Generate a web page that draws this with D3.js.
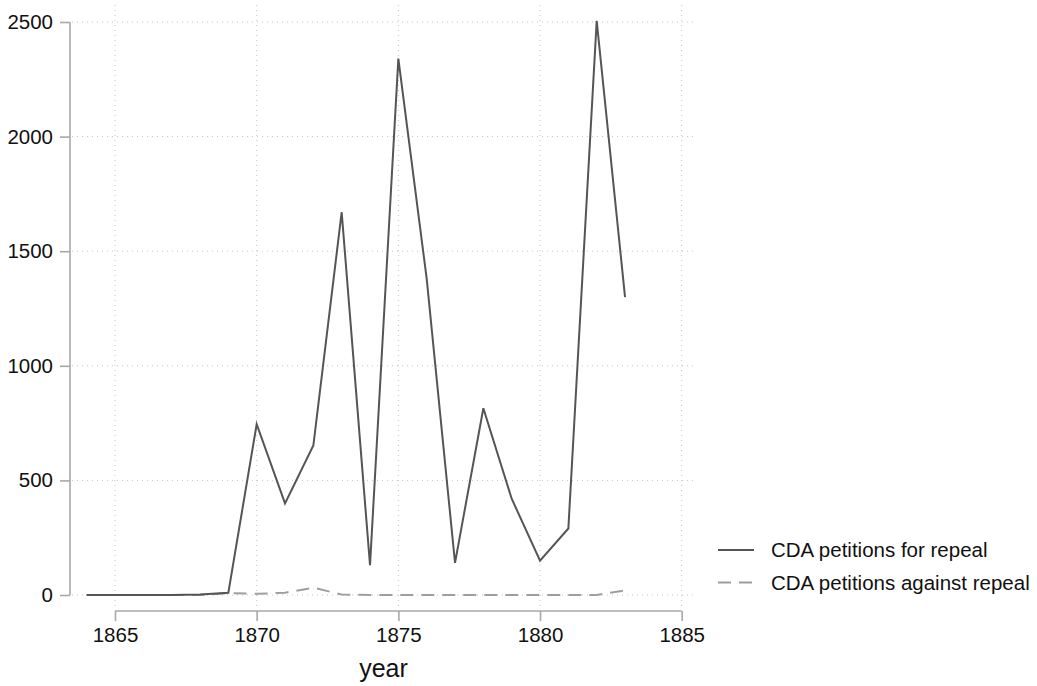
<!DOCTYPE html>
<html>
<head>
<meta charset="utf-8">
<script src="https://cdn.jsdelivr.net/npm/d3@7"></script>
<style>
  html, body { margin: 0; padding: 0; background: #fff; }
  svg { display: block; font-family: "Liberation Sans", Arial, sans-serif; }
</style>
</head>
<body>
<svg id="chart" width="1037" height="686"></svg>
<script>
// Petitions on the Contagious Diseases Acts, by year
const years = [1864, 1865, 1866, 1867, 1868, 1869, 1870, 1871, 1872, 1873,
               1874, 1875, 1876, 1877, 1878, 1879, 1880, 1881, 1882, 1883];
const forRepeal = [0, 0, 0, 0, 2, 10, 745, 400, 652, 1670,
                   130, 2340, 1380, 140, 815, 420, 150, 290, 2505, 1300];
const againstRepeal = [0, 0, 0, 0, 0, 8, 5, 10, 32, 2,
                       0, 0, 0, 0, 0, 0, 0, 0, 0, 20];
const xTicks = [1865, 1870, 1875, 1880, 1885];
const yTicks = [0, 500, 1000, 1500, 2000, 2500];
const seriesNames = ["CDA petitions for repeal", "CDA petitions against repeal"];

const svg = d3.select("#chart");

const x = d3.scaleLinear().domain([1865, 1885]).range([115, 681.7]);
const y = d3.scaleLinear().domain([0, 2500]).range([595, 22]);

const gridColor = "#c4c4c4";
const axisColor = "#a8a8a8";
const fontSize = 20.5;

// dotted grid
const grid = svg.append("g");
grid.selectAll("line.h").data(yTicks).join("line")
  .attr("x1", 72).attr("x2", 695)
  .attr("y1", d => y(d)).attr("y2", d => y(d))
  .attr("stroke", gridColor).attr("stroke-width", 1)
  .attr("stroke-dasharray", "1,4");
grid.selectAll("line.v").data(xTicks).join("line")
  .attr("y1", 5).attr("y2", 610)
  .attr("x1", d => x(d)).attr("x2", d => x(d))
  .attr("stroke", gridColor).attr("stroke-width", 1)
  .attr("stroke-dasharray", "1,4");

// y axis
const yAxis = svg.append("g").attr("transform", "translate(70,0)")
  .call(d3.axisLeft(y).tickValues(yTicks).tickSize(10).tickPadding(7).tickFormat(d3.format("d")));
yAxis.select(".domain").attr("d", `M0,${y(0)}V${y(2500)}`).attr("stroke", axisColor).attr("stroke-width", 1.6);
yAxis.selectAll(".tick line").attr("stroke", axisColor).attr("stroke-width", 1.6);
yAxis.selectAll(".tick text").attr("font-size", fontSize).attr("fill", "#111")
  .attr("font-family", "Liberation Sans, Arial, sans-serif");

// x axis
const xAxis = svg.append("g").attr("transform", "translate(0,611)")
  .call(d3.axisBottom(x).tickValues(xTicks).tickSize(10).tickPadding(6).tickFormat(d3.format("d")));
xAxis.select(".domain").attr("d", `M${x(1865)},0H${x(1885)}`).attr("stroke", axisColor).attr("stroke-width", 1.6);
xAxis.selectAll(".tick line").attr("stroke", axisColor).attr("stroke-width", 1.6);
xAxis.selectAll(".tick text").attr("font-size", fontSize).attr("fill", "#111")
  .attr("font-family", "Liberation Sans, Arial, sans-serif");

svg.append("text")
  .attr("x", 383.5).attr("y", 677)
  .attr("text-anchor", "middle")
  .attr("font-size", 25).attr("fill", "#111")
  .text("year");

// series lines
const line = d3.line().x(d => x(d[0])).y(d => y(d[1]));
const styles = [
  { color: "#555555", dash: null, width: 2 },
  { color: "#9e9e9e", dash: "13,8", width: 2 }
];

svg.append("path")
  .datum(years.map((yr, i) => [yr, againstRepeal[i]]))
  .attr("d", line).attr("fill", "none")
  .attr("stroke", styles[1].color).attr("stroke-width", styles[1].width)
  .attr("stroke-dasharray", styles[1].dash);

svg.append("path")
  .datum(years.map((yr, i) => [yr, forRepeal[i]]))
  .attr("d", line).attr("fill", "none")
  .attr("stroke", styles[0].color).attr("stroke-width", styles[0].width)
  .attr("stroke-linejoin", "miter");

// legend
const legend = svg.append("g");
seriesNames.forEach((name, i) => {
  const ly = 550 + i * 32.5;
  legend.append("line")
    .attr("x1", 718).attr("x2", 754).attr("y1", ly).attr("y2", ly)
    .attr("stroke", styles[i].color).attr("stroke-width", 2)
    .attr("stroke-dasharray", styles[i].dash);
  legend.append("text")
    .attr("x", 771).attr("y", ly).attr("dy", "0.35em")
    .attr("font-size", fontSize).attr("fill", "#111")
    .text(name);
});
</script>
</body>
</html>
